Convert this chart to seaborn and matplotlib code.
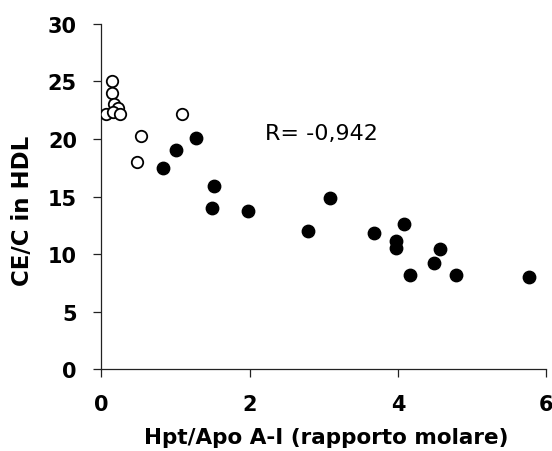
import matplotlib
matplotlib.use("Agg")
import matplotlib.pyplot as plt
import seaborn as sns
import pandas as pd

# Open circles (controls)
open_x = [0.148, 0.148, 0.175, 0.23, 0.067, 0.153, 0.256, 1.095, 0.53, 0.476]
open_y = [25.0, 24.0, 23.05, 22.7, 22.2, 22.3, 22.2, 22.2, 20.3, 18.0]

# Filled circles (patients)
filled_x = [0.826, 1.01, 1.28, 1.52, 1.494, 1.98, 3.09, 2.79, 3.68, 4.08, 3.98, 3.98, 4.57, 4.49, 4.16, 4.78, 5.77]
filled_y = [17.5, 19.07, 20.1, 15.94, 14.03, 13.7, 14.9, 11.97, 11.8, 12.64, 11.16, 10.55, 10.4, 9.19, 8.14, 8.14, 7.97]

x_ticks = [0, 2, 4, 6]
y_ticks = [0, 5, 10, 15, 20, 25, 30]
annotation = "R= -0,942"
xlabel = "Hpt/Apo A-I (rapporto molare)"
ylabel = "CE/C in HDL"

sns.set_style("ticks")
plt.rcParams['font.family'] = ['DejaVu Sans']
plt.rcParams['text.color'] = 'black'
plt.rcParams['axes.labelcolor'] = 'black'
plt.rcParams['xtick.color'] = 'black'
plt.rcParams['ytick.color'] = 'black'

fig = plt.figure(figsize=(5.52, 4.52), dpi=100)
ax = fig.add_axes([0.1835, 0.181, 0.806, 0.764])

df_open = pd.DataFrame({"x": open_x, "y": open_y})
df_filled = pd.DataFrame({"x": filled_x, "y": filled_y})

sns.scatterplot(data=df_filled, x="x", y="y", ax=ax, s=80, color="black",
                edgecolor="black", linewidth=1.0, zorder=3)
sns.scatterplot(data=df_open, x="x", y="y", ax=ax, s=68, facecolor="white",
                edgecolor="black", linewidth=1.3, zorder=4)

ax.set_xlim(0, 6)
ax.set_ylim(0, 30)
ax.set_xticks(x_ticks)
ax.set_yticks(y_ticks)
ax.set_xticklabels([str(v) for v in x_ticks], fontsize=15, fontweight="bold")
ax.set_yticklabels([str(v) for v in y_ticks], fontsize=15, fontweight="bold")
ax.tick_params(axis="both", direction="out", length=6, width=0.9, color="#222222")
ax.tick_params(axis="x", pad=12)
ax.tick_params(axis="y", pad=11.5)

for side in ["top", "right"]:
    ax.spines[side].set_visible(False)
for side in ["left", "bottom"]:
    ax.spines[side].set_linewidth(0.9)
    ax.spines[side].set_color("#222222")

ax.set_xlabel(xlabel, fontsize=15.5, fontweight="bold")
ax.set_ylabel(ylabel, fontsize=16.5, fontweight="bold")
ax.xaxis.label.set_verticalalignment("center")
ax.xaxis.set_label_coords(0.506, -0.1955)
ax.yaxis.label.set_verticalalignment("center")
ax.yaxis.set_label_coords(-0.176, 0.46)

ax.text(2.21, 20.55, annotation, fontsize=16, va="center", ha="left")

fig.savefig("out.png", dpi=100, facecolor="white")
